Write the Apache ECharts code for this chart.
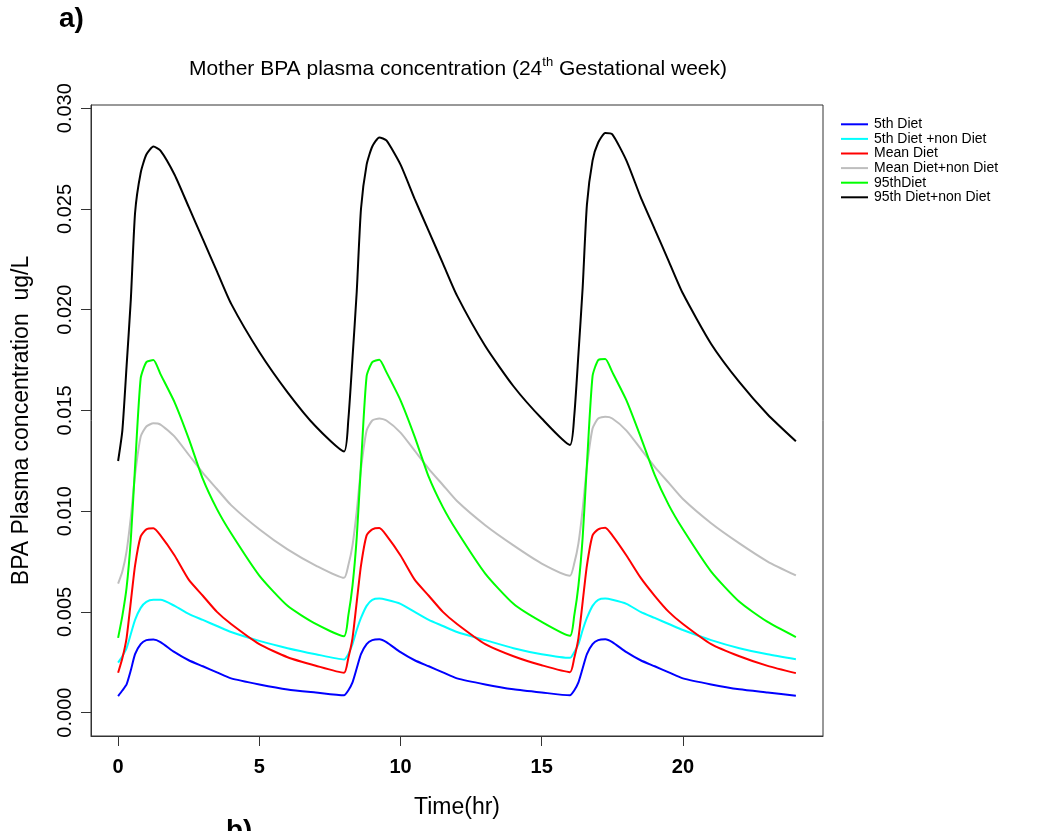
<!DOCTYPE html>
<html><head><meta charset="utf-8">
<script src="https://cdn.jsdelivr.net/npm/echarts@6/dist/echarts.min.js"></script>
<style>html,body{margin:0;padding:0;background:#fff}#c{width:1049px;height:831px}</style>
</head><body><div id="c"></div>
<script>
// Time (hr)
const timeHr = [
  0,0.15,0.3,0.45,0.6,0.8,1,1.25,1.5,2,2.5,3,3.5,4,5,6,7,
  8,8.15,8.3,8.45,8.6,8.8,9,9.25,9.5,10,10.5,11,11.5,12,13,14,15,
  16,16.15,16.3,16.45,16.6,16.8,17,17.25,17.5,18,18.5,19,19.5,20,21,22,23,
  24
];
// 5th Diet (blue)
const diet5th = [
  0.00082,0.0011,0.0014,0.0021,0.0029,0.0034,0.0036,0.00363,0.0035,0.0030,0.0026,0.0023,0.0020,0.0017,0.0014,0.00115,0.0010,
  0.00086,0.0011,0.0015,0.0022,0.0029,0.0034,0.0036,0.00364,0.0035,0.0030,0.0026,0.0023,0.0020,0.0017,0.0014,0.00116,0.0010,
  0.00086,0.0011,0.0015,0.0022,0.0029,0.0034,0.0036,0.00364,0.0035,0.0030,0.0026,0.0023,0.0020,0.0017,0.0014,0.00116,0.0010,
  0.00084
];
// 5th Diet +non Diet (cyan)
const diet5thNon = [
  0.00248,0.0028,0.0032,0.0039,0.0046,0.0052,0.0055,0.0056,0.0056,0.0053,0.0049,0.0046,0.0043,0.0040,0.00356,0.0032,0.0029,
  0.00264,0.0029,0.0034,0.0041,0.0047,0.0053,0.0056,0.00566,0.0056,0.0054,0.0050,0.0046,0.0043,0.0040,0.0036,0.0032,0.0029,
  0.00272,0.0030,0.0034,0.0041,0.0047,0.0053,0.0056,0.00566,0.0056,0.0054,0.0050,0.0047,0.0044,0.0041,0.0036,0.0032,0.0029,
  0.00265
];
// Mean Diet (red)
const dietMean = [
  0.00198,0.0027,0.0037,0.0055,0.0073,0.00875,0.0091,0.00915,0.0088,0.0078,0.0066,0.0058,0.0050,0.0044,0.0034,0.00275,0.00233,
  0.00198,0.0027,0.0037,0.0055,0.0073,0.0088,0.0091,0.00916,0.0088,0.0078,0.0066,0.0058,0.0050,0.0044,0.0034,0.0028,0.00235,
  0.00201,0.0027,0.0037,0.0055,0.0073,0.0088,0.0091,0.00918,0.0088,0.0078,0.0067,0.0058,0.0050,0.0044,0.0034,0.0028,0.00232,
  0.00196
];
// Mean Diet+non Diet (grey)
const dietMeanNon = [
  0.0064,0.0070,0.0080,0.0097,0.0118,0.0137,0.0142,0.01436,0.0143,0.0137,0.0128,0.0119,0.0111,0.0103,0.0091,0.0081,0.0073,
  0.00669,0.0073,0.0083,0.0100,0.0121,0.0140,0.0145,0.0146,0.0145,0.0139,0.0130,0.0121,0.0113,0.0105,0.0093,0.0083,0.0074,
  0.0068,0.0074,0.0084,0.0101,0.0122,0.0141,0.0146,0.01468,0.0146,0.0140,0.0131,0.0122,0.0114,0.0106,0.0094,0.0084,0.0075,
  0.00681
];
// 95thDiet (green)
const diet95th = [
  0.00371,0.0048,0.0062,0.0086,0.0122,0.0166,0.0174,0.0175,0.0168,0.0154,0.0136,0.0116,0.0101,0.0089,0.0068,0.0053,0.0044,
  0.00379,0.0048,0.0063,0.0087,0.0123,0.0167,0.0174,0.01752,0.0169,0.0155,0.0137,0.0117,0.0102,0.0090,0.0069,0.0054,0.0045,
  0.00381,0.0048,0.0063,0.0087,0.0123,0.0167,0.0175,0.01755,0.0169,0.0155,0.0137,0.0118,0.0103,0.0091,0.0070,0.0055,0.0045,
  0.00375
];
// 95th Diet+non Diet (black)
const diet95thNon = [
  0.01249,0.0140,0.0172,0.0205,0.0248,0.0268,0.0277,0.0281,0.0279,0.0267,0.0251,0.0235,0.0219,0.0203,0.0179,0.0159,0.0142,
  0.01296,0.0145,0.0176,0.0209,0.0250,0.0272,0.0281,0.02855,0.0284,0.0272,0.0255,0.0239,0.0223,0.0207,0.0182,0.0162,0.0146,
  0.01329,0.0147,0.0178,0.0211,0.0252,0.0274,0.0283,0.02877,0.0287,0.0274,0.0256,0.0240,0.0224,0.0208,0.0183,0.0164,0.0148,
  0.01347
];
const seriesNames = ['5th Diet','5th Diet +non Diet','Mean Diet','Mean Diet+non Diet','95thDiet','95th Diet+non Diet'];
const seriesColors = ['#0000FF','#00FFFF','#FF0000','#BEBEBE','#00FF00','#000000'];
const seriesValues = [diet5th, diet5thNon, dietMean, dietMeanNon, diet95th, diet95thNon];
const xTicks = [0,5,10,15,20];
const yTicks = [0,0.005,0.010,0.015,0.020,0.025,0.030];

const FONT = 'Liberation Sans, Arial, sans-serif';
const chart = echarts.init(document.getElementById('c'), null, {renderer:'canvas'});
chart.setOption({
  animation: false,
  backgroundColor: '#ffffff',
  title: {
    text: 'Mother BPA plasma concentration (24{sup|th} Gestational week)',
    left: 453, top: 51, textAlign: 'center',
    textStyle: {
      fontFamily: FONT, fontSize: 21, fontWeight: 'normal', color: '#000',
      rich: { sup: { fontFamily: FONT, fontSize: 13, color: '#000', padding: [0,0,13,0] } }
    }
  },
  graphic: [
    { type: 'text', left: 59, top: 5, style: { text: 'a)', font: 'bold 28px ' + FONT, fill: '#000' } },
    { type: 'text', left: 226, top: 817, style: { text: 'b)', font: 'bold 28px ' + FONT, fill: '#000' } }
  ],
  legend: {
    orient: 'vertical', left: 836, top: 112,
    itemWidth: 27, itemHeight: 2, itemGap: 0, icon: 'rect',
    textStyle: { fontFamily: FONT, fontSize: 14, color: '#000', lineHeight: 14.6, padding: [0,0,0,1] },
    data: seriesNames
  },
  grid: { left: 91, right: 226, top: 105, bottom: 95, show: true, borderColor: '#333', borderWidth: 1, containLabel: false },
  xAxis: {
    type: 'value', min: -0.96, max: 24.96,
    name: 'Time(hr)', nameLocation: 'middle', nameGap: 60,
    nameTextStyle: { fontFamily: FONT, fontSize: 23, color: '#000' },
    axisLine: { show: true, onZero: false, lineStyle: { color: '#333', width: 1 } },
    axisTick: { show: true, length: 10, inside: false, customValues: xTicks, lineStyle: { color: '#333' } },
    axisLabel: { customValues: xTicks, fontFamily: FONT, fontSize: 20, fontWeight: 'bold', color: '#000', margin: 21 },
    splitLine: { show: false }
  },
  yAxis: {
    type: 'value', min: -0.00116, max: 0.03016,
    name: 'BPA Plasma concentration  ug/L', nameLocation: 'middle', nameGap: 58,
    nameTextStyle: { fontFamily: FONT, fontSize: 23, color: '#000' },
    axisLine: { show: true, onZero: false, lineStyle: { color: '#333', width: 1 } },
    axisTick: { show: true, length: 10, inside: false, customValues: yTicks, lineStyle: { color: '#333' } },
    axisLabel: { customValues: yTicks, rotate: 90, fontFamily: FONT, fontSize: 20, color: '#000', margin: 16,
      formatter: v => v.toFixed(3) },
    splitLine: { show: false }
  },
  series: seriesNames.map((n, k) => ({
    name: n, type: 'line', showSymbol: false, symbol: 'none', smooth: 0.2,
    color: seriesColors[k],
    lineStyle: { color: seriesColors[k], width: 2 },
    data: timeHr.map((t, i) => [t, seriesValues[k][i]])
  }))
});
</script></body></html>
